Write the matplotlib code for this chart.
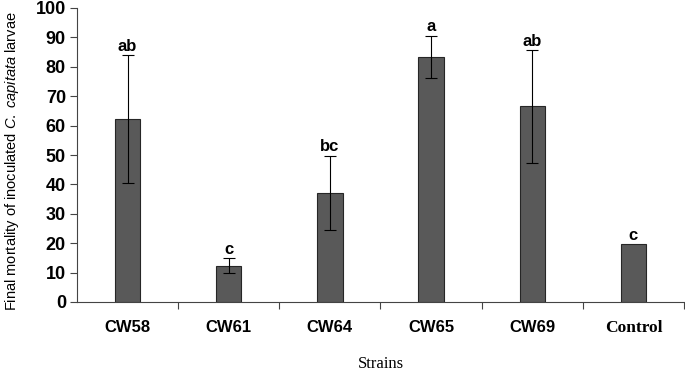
import matplotlib
matplotlib.use("Agg")
import matplotlib.pyplot as plt
import numpy as np

strains = ["CW58", "CW61", "CW64", "CW65", "CW69", "Control"]
mortality = [62.2, 12.3, 37.2, 83.3, 66.5, 19.6]
err = [21.8, 2.5, 12.6, 7.2, 19.2, 0]
letters = ["ab", "c", "bc", "a", "ab", "c"]

plt.rcParams["mathtext.fontset"] = "custom"
plt.rcParams["mathtext.rm"] = "Liberation Sans"
plt.rcParams["mathtext.it"] = "Liberation Sans:italic"

sans = ["Liberation Sans", "DejaVu Sans"]

fig = plt.figure(figsize=(6.85, 3.76), dpi=100)
ax = fig.add_axes([77 / 685, 74 / 376, 607 / 685, 294 / 376])

x = np.arange(len(strains))
ax.bar(x, mortality, width=0.25, color="#595959", edgecolor="#262626", linewidth=0.8, zorder=2)
for i in range(len(x)):
    if err[i] > 0:
        ax.errorbar(x[i], mortality[i], yerr=[[err[i]], [err[i]]], fmt="none",
                    ecolor="black", elinewidth=0.8, capsize=4, capthick=0.8, zorder=3)
    ax.text(x[i], mortality[i] + err[i] + 0.5, letters[i], ha="center", va="bottom",
            fontsize=12, fontweight="bold", family=sans)

ax.set_xlim(-0.5, 5.5)
ax.set_ylim(0, 100)
ax.set_yticks(range(0, 101, 10))
for lab in ax.get_yticklabels():
    lab.set_family(sans)
    lab.set_fontweight("bold")
    lab.set_fontsize(13)

ax.set_xticks(x)
ax.set_xticklabels(strains)
ax.tick_params(axis="x", which="major", length=0, pad=13)
ax.set_xticks(np.arange(0.5, 5.6, 1), minor=True)
ax.tick_params(axis="x", which="minor", length=5, width=0.8, color="#444444")
ax.tick_params(axis="y", length=5, width=0.8, color="#444444", pad=3)
for i, lab in enumerate(ax.get_xticklabels()):
    if strains[i] == "Control":
        lab.set_family("Liberation Serif")
        lab.set_fontsize(12.5)
    else:
        lab.set_family(sans)
        lab.set_fontsize(12)
    lab.set_fontweight("bold")

for s in ["top", "right"]:
    ax.spines[s].set_visible(False)
ax.spines["left"].set_color("#444444")
ax.spines["bottom"].set_color("#444444")

ax.set_xlabel("Strains", family="Liberation Serif", fontsize=12, labelpad=14)
fig.text(0.018, 0.572, r"Final mortality of inoculated $\it{C.\ capitata}$ larvae",
         rotation=90, ha="center", va="center", fontsize=10.5, family=sans)

fig.savefig("out.png", dpi=100)
